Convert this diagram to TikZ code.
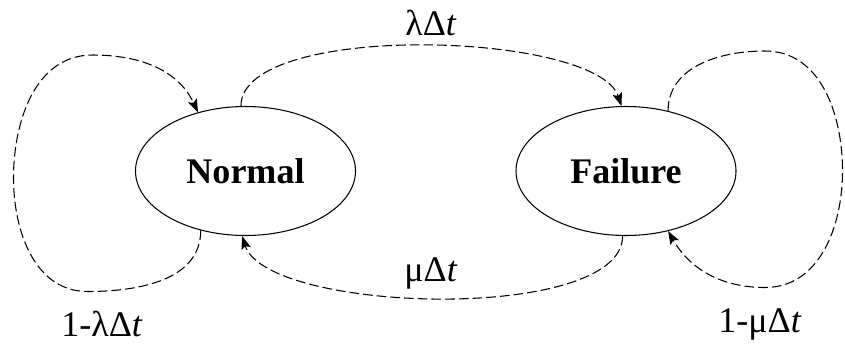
\documentclass[tikz,border=0pt]{standalone}
\usepackage{fontspec}
\setmainfont{Liberation Serif}
\usetikzlibrary{arrows.meta,shapes.geometric}

\begin{document}
\begin{tikzpicture}[>={Stealth[length=7.5pt,width=5.5pt,inset=1.5pt]},font=\fontsize{20.5}{24}\selectfont,
 state/.style={ellipse,draw,line width=0.6pt,fill=white,minimum width=4.4cm,minimum height=2.58cm,inner sep=0pt,font=\fontsize{20.5}{24}\selectfont\bfseries},
 flow/.style={->,line width=0.6pt,dash pattern=on 5.5pt off 2.3pt}]
 \useasboundingbox (0,0) rectangle (16.9,6.86);
 \node[state] (normal) at (4.91,3.44) {Normal};
 \node[state] (failure) at (12.52,3.44) {Failure};
 % transitions between the two states
 \draw[flow] (normal.94) .. controls +(0,1.7) and +(-0.5,1.5) .. (failure.94);
 \draw[flow] (failure.267) .. controls +(0,-1.75) and +(0.5,-1.55) .. (normal.267);
 % each state staying as it is: loops round the outside
 \draw[flow] (normal.233) to[out=-90,in=0] (1.75,1.03) to[out=180,in=-90] (0.27,3.3) to[out=90,in=180] (1.85,5.76) to[out=0,in=115] (normal.129);
 \draw[flow] (failure.55) to[out=90,in=180] (15.3,5.84) to[out=0,in=90] (16.85,3.44) to[out=-90,in=0] (15.3,1.11) to[out=180,in=-60] (failure.305);
 \node (lamlabel) at (8.62,6.4) {λΔ\textit{t}};
 \node (mulabel) at (8.62,1.4) {μΔ\textit{t}};
 \node (staynormal) at (2.04,0.38) {1-λΔ\textit{t}};
 \node (stayfailure) at (15.2,0.38) {1-μΔ\textit{t}};
\end{tikzpicture}
\end{document}
